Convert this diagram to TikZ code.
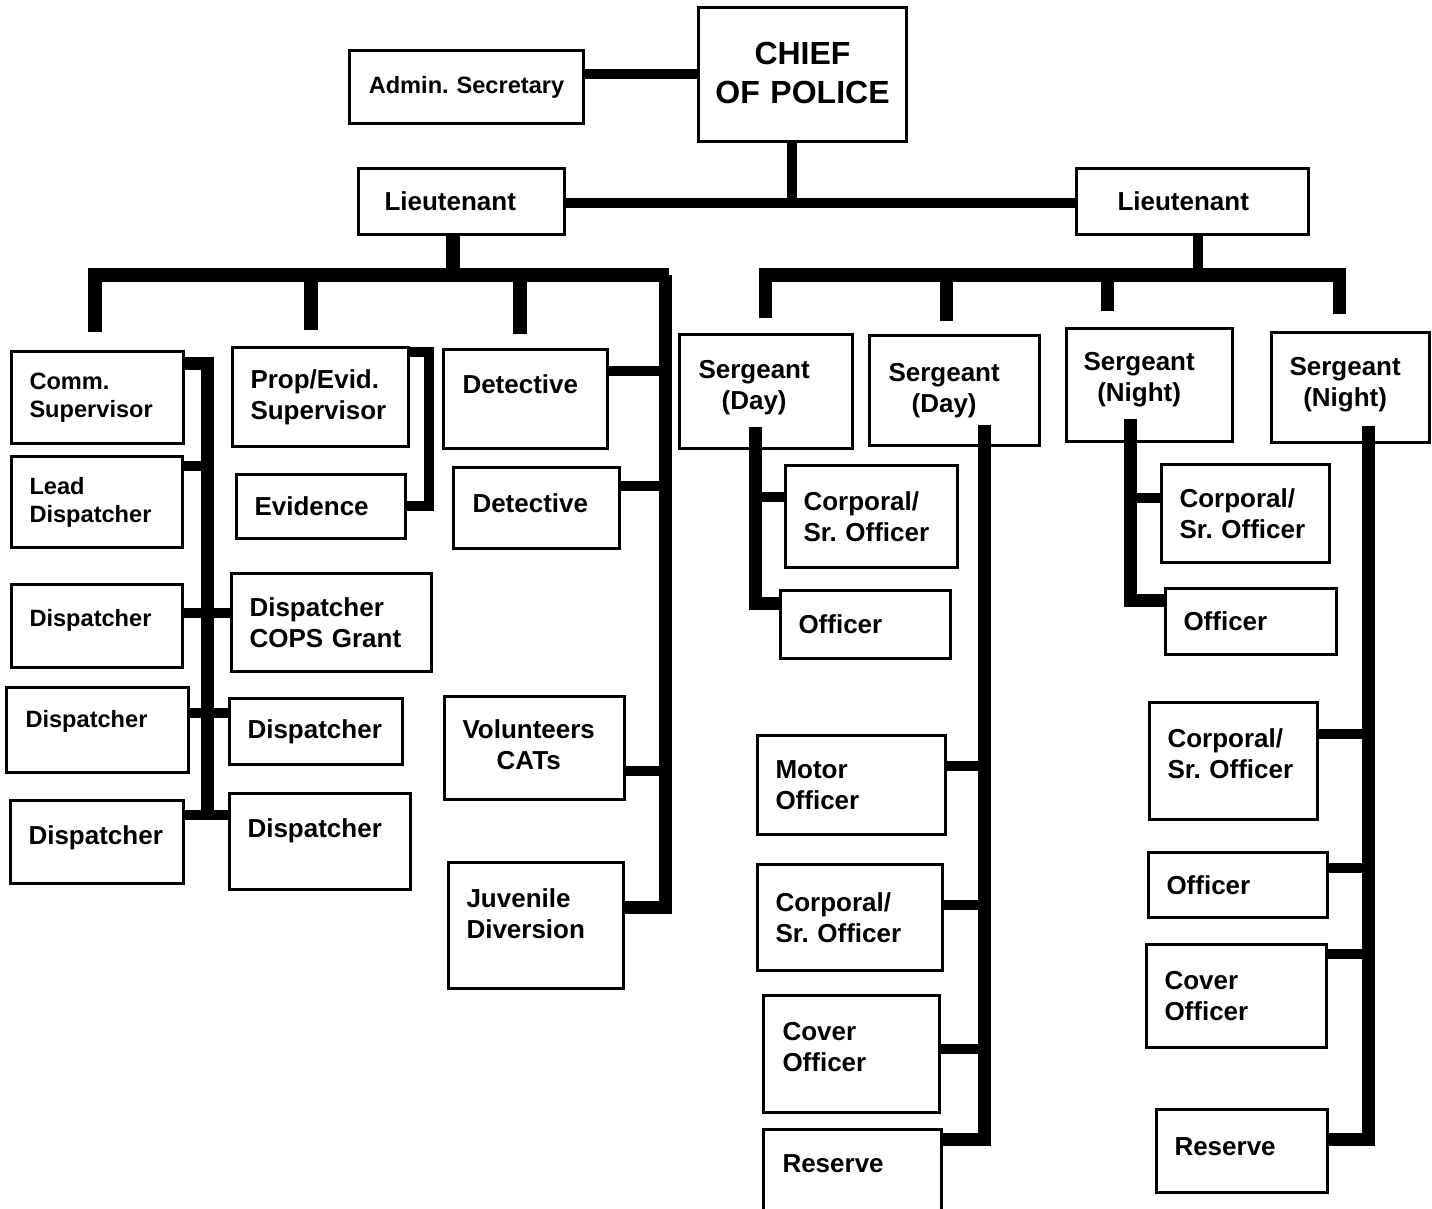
\documentclass[tikz,border=0pt]{standalone}
\usepackage{fontspec}
\setmainfont{Liberation Sans}
\usetikzlibrary{positioning}
\frenchspacing
\hyphenpenalty=10000
\exhyphenpenalty=10000
\tikzstyle{unit} = [draw, line width=1.5pt, anchor=north west, inner sep=0pt, align=left, font=\bfseries\fontsize{13pt}{15.6pt}\selectfont]
\tikzstyle{small} = [font=\bfseries\fontsize{11.8pt}{14pt}\selectfont]
\tikzstyle{link} = [draw, line width=5pt]
\tikzstyle{bus} = [draw, line width=7pt]
\tikzstyle{spine} = [draw, line width=6.5pt]
\tikzset{lift/.style={execute at end node={\par\vspace*{#1}}}}
\newcommand{\cstack}[1]{\begin{tabular}{@{}c@{}}#1\end{tabular}}

\begin{document}
\begin{tikzpicture}[x=0.5pt, y=-0.5pt]
			\path [use as bounding box, fill=white] (0,0) rectangle (1432,1209);

			% top of the chart
			\node [unit, small, align=center, minimum width=117pt, minimum height=36.5pt, text width=110pt] (admin) at (348,49) {Admin. Secretary};
			\node [unit, align=center, font=\bfseries\fontsize{16pt}{19.5pt}\selectfont, minimum width=104pt, minimum height=67pt, text width=96pt, lift=2pt] (chief) at (697,6) {CHIEF\\OF POLICE};
			\node [unit, minimum width=103pt, minimum height=33pt, text width=77pt] (ltl) at (357,167) {Lieutenant};
			\node [unit, minimum width=116pt, minimum height=33pt, text width=75pt] (ltr) at (1075,167) {Lieutenant};

			% communications
			\node [unit, small, minimum width=86pt, minimum height=46pt, text width=68pt] (comm) at (10,350) {Comm.\\Supervisor};
			\node [unit, small, minimum width=85.5pt, minimum height=45.5pt, text width=67.5pt] (lead) at (10,455) {Lead\\Dispatcher};
			\node [unit, small, minimum width=85.5pt, minimum height=41.5pt, text width=67.5pt, lift=5.5pt] (disp1) at (10,583) {Dispatcher};
			\node [unit, small, minimum width=91pt, minimum height=42.5pt, text width=72pt, lift=8.5pt] (disp2) at (5,686) {Dispatcher};
			\node [unit, minimum width=86.5pt, minimum height=41.5pt, text width=68.5pt, lift=4.5pt] (disp3) at (9,799) {Dispatcher};

			% property and evidence
			\node [unit, minimum width=88pt, minimum height=49.5pt, text width=70pt] (prop) at (231,346) {Prop/Evid.\\Supervisor};
			\node [unit, minimum width=84.5pt, minimum height=32pt, text width=66.5pt] (evid) at (235,473) {Evidence};
			\node [unit, minimum width=100pt, minimum height=49pt, text width=82pt] (cops) at (230,572) {Dispatcher\\COPS Grant};
			\node [unit, minimum width=86.5pt, minimum height=33pt, text width=68.5pt] (dispr1) at (228,697) {Dispatcher};
			\node [unit, minimum width=90.5pt, minimum height=48pt, text width=72.5pt, lift=10.5pt] (dispr2) at (228,792) {Dispatcher};

			% investigations
			\node [unit, minimum width=82pt, minimum height=49.5pt, text width=63pt, lift=15pt] (det1) at (442,348) {Detective};
			\node [unit, minimum width=83pt, minimum height=40.5pt, text width=64pt, lift=5pt] (det2) at (452,466) {Detective};
			\node [unit, minimum width=90pt, minimum height=51.5pt, text width=72pt] (vol) at (443,695) {\cstack{Volunteers\\CATs}};
			\node [unit, minimum width=87.5pt, minimum height=63pt, text width=69.5pt, lift=12pt] (juv) at (447,861) {Juvenile\\Diversion};

			% patrol sergeants
			\node [unit, minimum width=86.5pt, minimum height=57pt, text width=67.5pt, lift=4pt] (sgd1) at (678,333) {\cstack{Sergeant\\(Day)}};
			\node [unit, minimum width=85pt, minimum height=55pt, text width=66pt] (sgd2) at (868,334) {\cstack{Sergeant\\(Day)}};
			\node [unit, minimum width=83pt, minimum height=56.5pt, text width=66pt, lift=5pt] (sgn1) at (1065,327) {\cstack{Sergeant\\(Night)}};
			\node [unit, minimum width=79pt, minimum height=55pt, text width=61pt, lift=3pt] (sgn2) at (1270,331) {\cstack{Sergeant\\(Night)}};

			% day shift
			\node [unit, minimum width=86pt, minimum height=51pt, text width=68pt] (cpd1) at (784,464) {Corporal/\\Sr. Officer};
			\node [unit, minimum width=85pt, minimum height=34pt, text width=67pt] (ofd1) at (779,589) {Officer};
			\node [unit, minimum width=94pt, minimum height=49.5pt, text width=76pt] (motor) at (756,734) {Motor\\Officer};
			\node [unit, minimum width=92.5pt, minimum height=53pt, text width=74.5pt] (cpd2) at (756,863) {Corporal/\\Sr. Officer};
			\node [unit, minimum width=88pt, minimum height=58.5pt, text width=69pt, lift=7pt] (cvd2) at (762,994) {Cover\\Officer};
			\node [unit, minimum width=89pt, minimum height=47.5pt, text width=70pt, lift=13pt] (rsd2) at (762,1128) {Reserve};

			% night shift
			\node [unit, minimum width=84pt, minimum height=49pt, text width=66pt] (cpn1) at (1160,463) {Corporal/\\Sr. Officer};
			\node [unit, minimum width=85.5pt, minimum height=33pt, text width=67.5pt] (ofn1) at (1164,587) {Officer};
			\node [unit, minimum width=84pt, minimum height=58.5pt, text width=66pt, lift=7pt] (cpn2) at (1148,701) {Corporal/\\Sr. Officer};
			\node [unit, minimum width=89.5pt, minimum height=32.5pt, text width=71.5pt] (ofn2) at (1147,851) {Officer};
			\node [unit, minimum width=90pt, minimum height=51.5pt, text width=72pt] (cvn2) at (1145,943) {Cover\\Officer};
			\node [unit, minimum width=85.5pt, minimum height=41.5pt, text width=67.5pt, lift=4pt] (rsn2) at (1155,1108) {Reserve};

			% junctions
			\coordinate (cj) at (792,203);
			\coordinate (lj) at (453,275);
			\coordinate (rj) at (1198,275);
			\coordinate (lbw) at (88,275);
			\coordinate (lbe) at (669,275);
			\coordinate (rbw) at (759,275);
			\coordinate (rbe) at (1346,275);
			\coordinate (ld1) at (95,332);
			\coordinate (ld2) at (311,330);
			\coordinate (ld3) at (520,334);
			\coordinate (rd1) at (765,318);
			\coordinate (rd2) at (946,321);
			\coordinate (rd3) at (1107,311);
			\coordinate (rd4) at (1339,314);
			\coordinate (ds) at (665,275);
			\coordinate (ds1) at (665,371);
			\coordinate (ds2) at (665,486);
			\coordinate (ds3) at (665,771);
			\coordinate (dsb) at (665,907);
			\coordinate (cs) at (207,364);
			\coordinate (cs1) at (207,466);
			\coordinate (cs2) at (207,613);
			\coordinate (cs3) at (207,713);
			\coordinate (cs4) at (207,815);
			\coordinate (csb) at (207,819);
			\coordinate (pb) at (429,352);
			\coordinate (pbb) at (429,506);
			\coordinate (s1t) at (755,427);
			\coordinate (s1c) at (755,497);
			\coordinate (s1b) at (755,604);
			\coordinate (s2t) at (984,425);
			\coordinate (s2a) at (984,766);
			\coordinate (s2b) at (984,905);
			\coordinate (s2c) at (984,1049);
			\coordinate (s2d) at (984,1139);
			\coordinate (n1t) at (1130,419);
			\coordinate (n1c) at (1130,498);
			\coordinate (n1b) at (1130,601);
			\coordinate (n2t) at (1368,426);
			\coordinate (n2a) at (1368,734);
			\coordinate (n2b) at (1368,868);
			\coordinate (n2c) at (1368,954);
			\coordinate (n2d) at (1368,1139);

			% chief and lieutenants
			\path [link] (admin.east |- chief.west) -- (chief.west);
			\path [link] (chief.south -| cj) -- (cj);
			\path [link] (ltl.east |- cj) -- (ltr.west |- cj);
			\path [bus] (ltl.south -| lj) -- (lj);
			\path [link] (ltr.south -| rj) -- (rj);
			\path [bus] (lbw) -- (lbe);
			\path [bus] (rbw) -- (rbe);
			\path [bus] (ld1 |- lbw) -- (ld1);
			\path [bus] (ld2 |- lbw) -- (ld2);
			\path [bus] (ld3 |- lbw) -- (ld3);
			\path [spine] (rd1 |- rbw) -- (rd1);
			\path [spine] (rd2 |- rbw) -- (rd2);
			\path [spine] (rd3 |- rbw) -- (rd3);
			\path [spine] (rd4 |- rbw) -- (rd4);

			% communications
			\path [spine] (comm.east |- cs) -- (cs) -- (csb);
			\path [link] (lead.east |- cs1) -- (cs1);
			\path [link] (disp1.east |- cs2) -- (cops.west |- cs2);
			\path [link] (disp2.east |- cs3) -- (dispr1.west |- cs3);
			\path [link] (disp3.east |- cs4) -- (dispr2.west |- cs4);
			\path [link] (prop.east |- pb) -- (pb) -- (pbb) -- (evid.east |- pbb);

			% investigations
			\path [spine] (ds) -- (dsb) -- (juv.east |- dsb);
			\path [link] (det1.east |- ds1) -- (ds1);
			\path [link] (det2.east |- ds2) -- (ds2);
			\path [link] (vol.east |- ds3) -- (ds3);

			% day shift
			\path [spine] (s1t) -- (s1b) -- (ofd1.west |- s1b);
			\path [link] (s1c) -- (cpd1.west |- s1c);
			\path [spine] (s2t) -- (s2d) -- (rsd2.east |- s2d);
			\path [link] (motor.east |- s2a) -- (s2a);
			\path [link] (cpd2.east |- s2b) -- (s2b);
			\path [link] (cvd2.east |- s2c) -- (s2c);

			% night shift
			\path [spine] (n1t) -- (n1b) -- (ofn1.west |- n1b);
			\path [link] (n1c) -- (cpn1.west |- n1c);
			\path [spine] (n2t) -- (n2d) -- (rsn2.east |- n2d);
			\path [link] (cpn2.east |- n2a) -- (n2a);
			\path [link] (ofn2.east |- n2b) -- (n2b);
			\path [link] (cvn2.east |- n2c) -- (n2c);
		\end{tikzpicture}
\end{document}
